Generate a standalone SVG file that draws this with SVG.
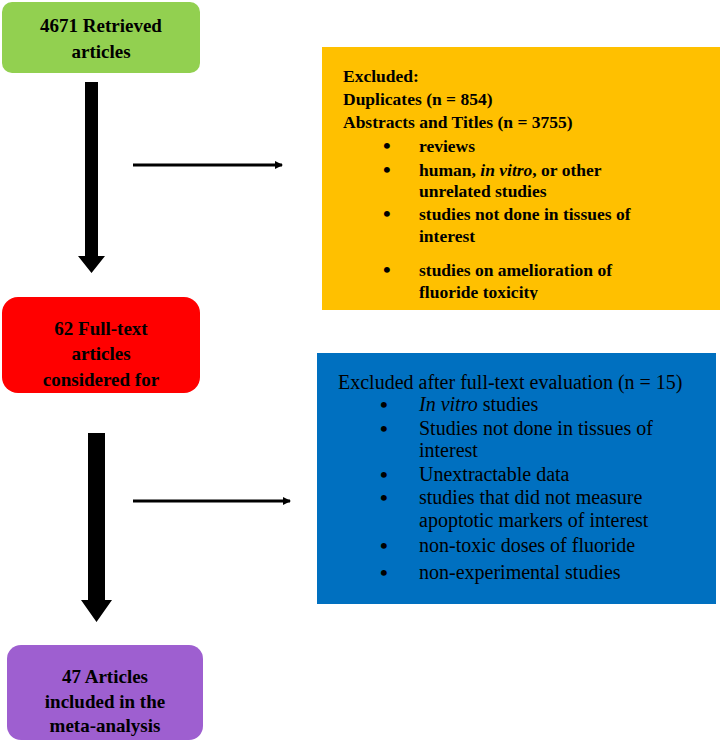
<svg xmlns="http://www.w3.org/2000/svg" width="724" height="745" viewBox="0 0 724 745">
<defs>
<style>
text{font-family:"Liberation Serif","Times New Roman",serif;font-weight:bold;font-size:19px;fill:#000}
.c{text-anchor:middle}
.o{font-size:17.5px}
.b{font-size:22px}
.n{font-weight:normal;font-size:20px}
</style>
<marker id="ah" markerWidth="8" markerHeight="8" refX="7" refY="4" orient="auto" markerUnits="userSpaceOnUse"><path d="M0,0 L8,4 L0,8 Z" fill="#000"/></marker>
<clipPath id="cg"><rect x="2" y="2" width="198" height="57"/></clipPath>
<clipPath id="co"><rect x="322" y="47" width="398" height="253"/></clipPath>
<clipPath id="cr"><rect x="2" y="297" width="198" height="96"/></clipPath>
</defs>
<g id="connectors">
<path d="M85,82 H98 V256 H105 L91.5,273 L78,256 H85 Z" fill="#000"/>
<path d="M88,433 H105 V600 H112 L96.5,622 L81,600 H88 Z" fill="#000"/>
<line x1="133" y1="165" x2="282" y2="165" stroke="#000" stroke-width="3" marker-end="url(#ah)"/>
<line x1="133" y1="501" x2="290" y2="501" stroke="#000" stroke-width="3" marker-end="url(#ah)"/>
</g>
<g id="n1">
<rect x="2" y="2" width="198" height="71" rx="10" fill="#92d050"/>
<g clip-path="url(#cg)"><text class="c" x="101" y="32">4671 Retrieved</text><text class="c" x="101" y="58">articles</text></g>
</g>
<g id="n2">
<rect x="322" y="47" width="398" height="263" fill="#ffc000"/>
<g clip-path="url(#co)">
<text class="o" x="343" y="82">Excluded:</text>
<text class="o" x="343" y="105">Duplicates (n = 854)</text>
<text class="o" x="343" y="128">Abstracts and Titles (n = 3755)</text>
<text class="b" x="383" y="153">•</text><text class="b" x="383" y="177">•</text><text class="b" x="383" y="221">•</text><text class="b" x="383" y="277">•</text>
<text class="o" x="419" y="152">reviews</text>
<text class="o" x="419" y="176">human, <tspan font-style="italic">in vitro</tspan>, or other</text>
<text class="o" x="419" y="197">unrelated studies</text>
<text class="o" x="419" y="220">studies not done in tissues of</text>
<text class="o" x="419" y="242">interest</text>
<text class="o" x="419" y="276">studies on amelioration of</text>
<text class="o" x="419" y="298">fluoride toxicity</text>
</g>
</g>
<g id="n3">
<rect x="2" y="297" width="198" height="96" rx="16" fill="#ff0000"/>
<g clip-path="url(#cr)"><text class="c" x="101" y="335">62 Full-text</text><text class="c" x="101" y="360">articles</text><text class="c" x="101" y="386">considered for</text></g>
</g>
<g id="n4">
<rect x="317" y="353" width="399" height="251" fill="#0070c0"/>
<text class="n" x="338" y="389">Excluded after full-text evaluation (n = 15)</text>
<text class="b" x="380" y="412">•</text><text class="b" x="380" y="436">•</text><text class="b" x="380" y="482">•</text><text class="b" x="380" y="505">•</text><text class="b" x="380" y="553">•</text><text class="b" x="380" y="580">•</text>
<text class="n" x="419" y="411"><tspan font-style="italic">In vitro</tspan> studies</text>
<text class="n" x="419" y="435">Studies not done in tissues of</text>
<text class="n" x="419" y="457">interest</text>
<text class="n" x="419" y="481">Unextractable data</text>
<text class="n" x="419" y="504">studies that did not measure</text>
<text class="n" x="419" y="527">apoptotic markers of interest</text>
<text class="n" x="419" y="552">non-toxic doses of fluoride</text>
<text class="n" x="419" y="579">non-experimental studies</text>
</g>
<g id="n5">
<rect x="7" y="645" width="196" height="95" rx="14" fill="#9e5fd0"/>
<text class="c" x="105" y="683">47 Articles</text>
<text class="c" x="105" y="708">included in the</text>
<text class="c" x="105" y="732">meta-analysis</text>
</g>
</svg>
